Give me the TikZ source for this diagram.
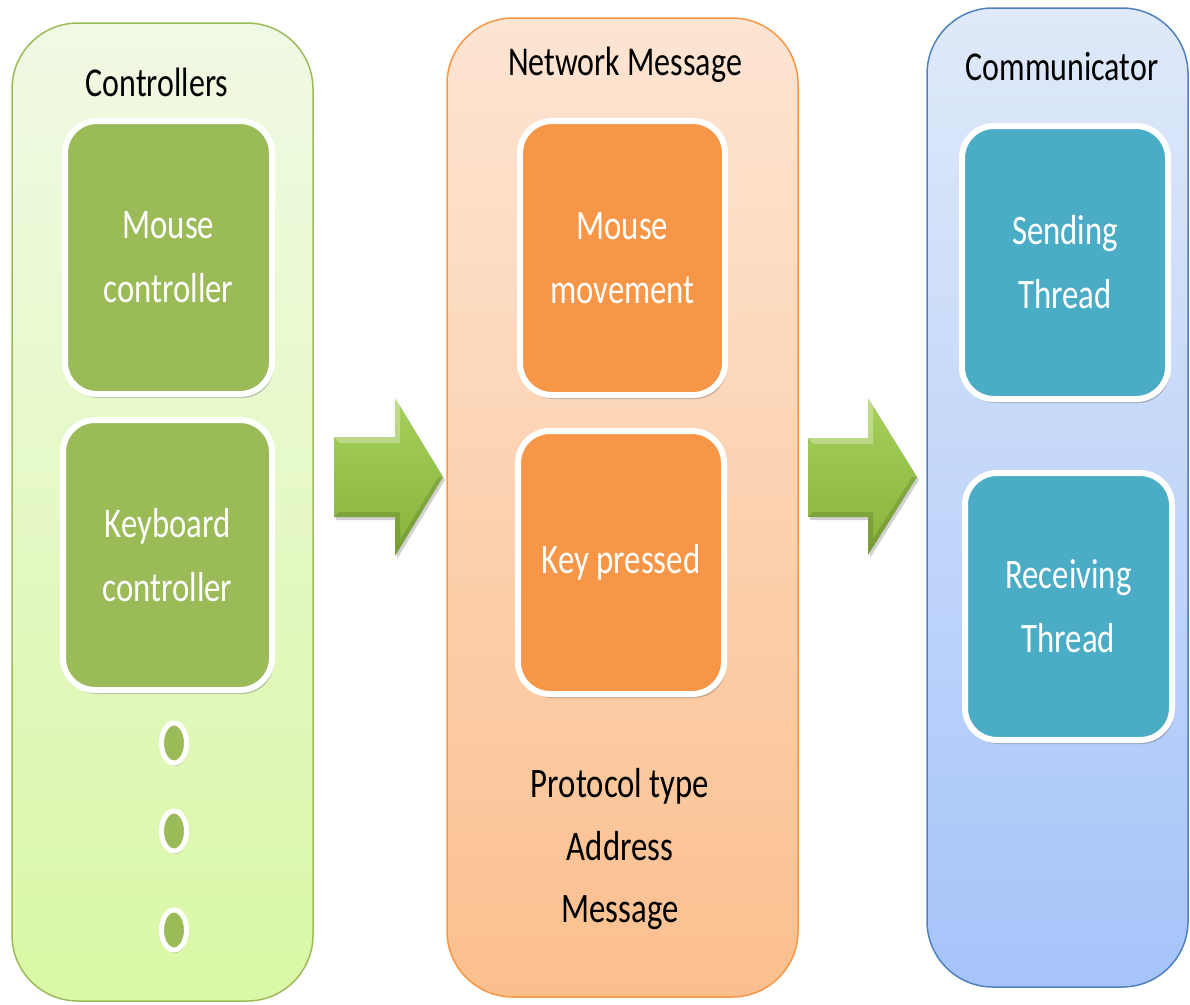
\documentclass[tikz,border=0pt]{standalone}
\usepackage{fontspec}
\setmainfont{Carlito}[FakeStretch=0.78]
\usetikzlibrary{shapes.geometric,shadows}
\definecolor{grnEdge}{HTML}{9BBB59}
\definecolor{grnTop}{HTML}{F0F9E4}
\definecolor{grnBot}{HTML}{DAF8A6}
\definecolor{grnBox}{HTML}{9BBB59}
\definecolor{orEdge}{HTML}{F79646}
\definecolor{orTop}{HTML}{FDE5D3}
\definecolor{orBot}{HTML}{FBBF8E}
\definecolor{orBox}{HTML}{F79646}
\definecolor{blEdge}{HTML}{4F81BD}
\definecolor{blTop}{HTML}{DFE9F9}
\definecolor{blBot}{HTML}{A6C4FA}
\definecolor{blBox}{HTML}{4BACC6}
\definecolor{arTop}{HTML}{A6CE5C}
\definecolor{arMid}{HTML}{96C24B}
\definecolor{arBot}{HTML}{88B33E}
\begin{document}
\begin{tikzpicture}[x=1pt,y=-1pt,
  column/.style={draw, line width=1.5pt, rounded corners=66pt, inner sep=0pt},
  colG/.style={column, draw=grnEdge, top color=grnTop, bottom color=grnBot},
  colO/.style={column, draw=orEdge, top color=orTop, bottom color=orBot},
  colB/.style={column, draw=blEdge, top color=blTop, bottom color=blBot},
  title/.style={anchor=base, text=black, font=\fontsize{41}{50}\selectfont, inner sep=0pt},
  inbox/.style={draw=white, line width=6pt, rounded corners=32pt, text=white, align=center,
    font=\fontsize{42}{64}\selectfont, inner sep=0pt,
    drop shadow={shadow xshift=2pt, shadow yshift=-4pt, opacity=0.3, fill=black!70}},
  boxG/.style={inbox, fill=grnBox},
  boxO/.style={inbox, fill=orBox},
  boxB/.style={inbox, fill=blBox},
  dotnode/.style={ellipse, fill=grnBox, draw=white, line width=5pt, minimum width=25pt,
    minimum height=40pt, inner sep=0pt,
    drop shadow={shadow xshift=1pt, shadow yshift=-3pt, opacity=0.3, fill=black!70}},
  field/.style={anchor=base, text=black, font=\fontsize{42}{60}\selectfont, inner sep=0pt},
  blockarrow/.style={top color=arTop, bottom color=arBot, middle color=arMid,
    drop shadow={shadow xshift=2pt, shadow yshift=-3pt, opacity=0.3, fill=black!60}}
]
\useasboundingbox (0,0) rectangle (1190,1004);

% columns
\node[colG, minimum width=301pt, minimum height=978pt] (ctrl) at (162.5,512) {};
\node[colO, minimum width=351pt, minimum height=979pt] (net) at (622.5,507.5) {};
\node[colB, minimum width=261pt, minimum height=979pt] (comm) at (1057.5,497.5) {};

% titles
\node[title] (tctrl) at (157,96) {Controllers};
\node[title] (tnet) at (625,75) {Network Message};
\node[title] (tcomm) at (1062,80) {Communicator};

% inner boxes
\node[boxG, minimum width=207pt, minimum height=273pt] (mctrl) at (168.5,257.5) {Mouse\\controller};
\node[boxG, minimum width=209pt, minimum height=270pt] (kctrl) at (167.5,555) {Keyboard\\controller};
\node[boxO, minimum width=205pt, minimum height=274pt] (mmove) at (622.5,258) {Mouse\\movement};
\node[boxO, minimum width=206pt, minimum height=263pt] (kpress) at (621,562.5) {Key pressed};
\node[boxB, minimum width=206pt, minimum height=273pt] (send) at (1065,262.5) {Sending\\Thread};
\node[boxB, minimum width=207pt, minimum height=267pt] (recv) at (1068.5,606.5) {Receiving\\Thread};

% dots
\node[dotnode] (d1) at (174,743) {};
\node[dotnode] (d2) at (174,831) {};
\node[dotnode] (d3) at (174,930) {};

% message fields
\node[field] (f1) at (620,797) {Protocol type};
\node[field] (f2) at (620,860) {Address};
\node[field] (f3) at (620,922) {Message};

% block arrows
\path[blockarrow] (334,437) -- (395,437) -- (395,398) -- (443,477) -- (395,556) -- (395,517) -- (334,517) -- cycle;
\fill[white, opacity=0.3] (334,437) -- (395,437) -- (395,398) -- (400,406) -- (400,443) -- (339,443) -- cycle;
\fill[black, opacity=0.12] (334,517) -- (395,517) -- (395,556) -- (443,477) -- (438,477) -- (400,540) -- (400,512) -- (339,512) -- cycle;
\path[blockarrow] (808,438) -- (868,438) -- (868,398) -- (917,477) -- (868,555) -- (868,517) -- (808,517) -- cycle;
\fill[white, opacity=0.3] (808,438) -- (868,438) -- (868,398) -- (873,406) -- (873,444) -- (813,444) -- cycle;
\fill[black, opacity=0.12] (808,517) -- (868,517) -- (868,555) -- (917,477) -- (912,477) -- (873,539) -- (873,512) -- (813,512) -- cycle;
\end{tikzpicture}
\end{document}
